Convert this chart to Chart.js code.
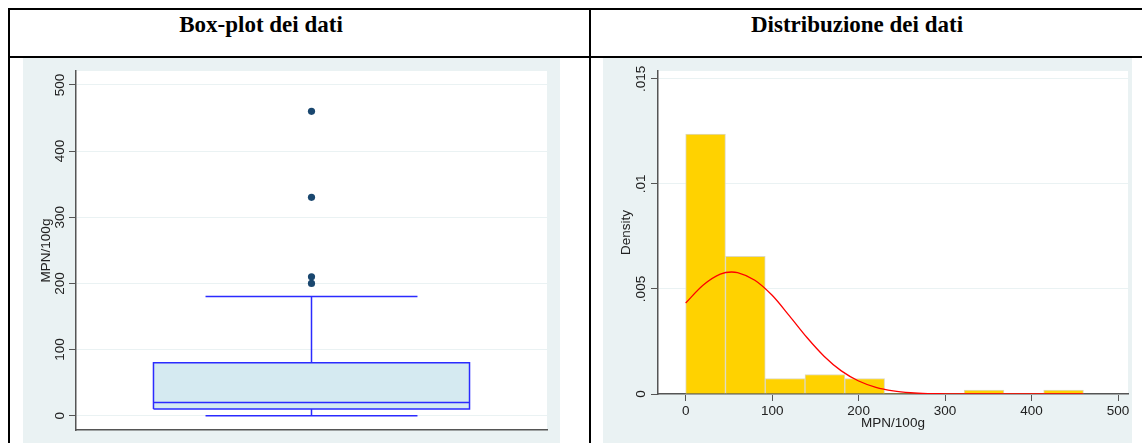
<!DOCTYPE html>
<html>
<head>
<meta charset="utf-8">
<script src="https://cdn.jsdelivr.net/npm/chart.js@4.4.1/dist/chart.umd.min.js"></script>
<style>
  html, body { margin: 0; padding: 0; background: #fff; }
  body { width: 1142px; height: 443px; position: relative; overflow: hidden; }
  .rule { position: absolute; background: #000; }
  .head { position: absolute; top: 12px; height: 24px; line-height: 24px; white-space: nowrap;
          font: bold 23px "Liberation Serif", "Times New Roman", serif; color: #000; transform: translateX(-50%); }
  canvas { position: absolute; top: 58px; background: #eaf2f3; }
</style>
</head>
<body>
<div class="rule" style="left:8px;top:8px;width:1134px;height:2px"></div>
<div class="rule" style="left:8px;top:56px;width:1134px;height:2px"></div>
<div class="rule" style="left:8px;top:8px;width:2px;height:435px"></div>
<div class="rule" style="left:589px;top:8px;width:2px;height:435px"></div>
<div class="head" style="left:261px">Box-plot dei dati</div>
<div class="head" style="left:857px">Distribuzione dei dati</div>

<canvas id="boxChart" width="537" height="385" style="left:23px"></canvas>
<canvas id="histChart" width="529" height="385" style="left:603px"></canvas>

<script>
// box plot (MPN/100g)
const boxQuartiles = [10, 20, 80];      // q1, median, q3
const boxWhiskers = [0, 180];           // lower, upper adjacent value
const boxOutliers = [200, 210, 330, 460];
const boxTicks = [0, 100, 200, 300, 400, 500];

// histogram + normal density
const binStarts = [0, 46, 92, 138, 184, 230, 276, 322, 368, 414];
const binWidth = 46;
const binDensity = [0.01238, 0.00655, 0.00074, 0.00093, 0.00074, 0, 0, 0.00019, 0, 0.00019];
const normalX = [0, 20, 40, 53, 60, 80, 100, 120, 140, 160, 180, 200, 220, 240, 260, 280, 300, 340, 380, 420, 460];
const normalY = [0.00433, 0.00518, 0.00571, 0.00581, 0.00578, 0.00542, 0.00470, 0.00372, 0.00270, 0.00180,
                 0.00110, 0.00062, 0.00032, 0.00015, 0.00006, 0.00002, 0.00001, 0, 0, 0, 0];
const mpnTicks = [0, 100, 200, 300, 400, 500];
const densityTicks = [0, 0.005, 0.01, 0.015];
const densityTickLabels = ['0', '.005', '.01', '.015'];

const FONT = '"Liberation Sans", Arial, Helvetica, sans-serif';
const AXIS = '#555';
const GRID = '#eaf2f3';

const plotBg = {
  id: 'plotBg',
  beforeDraw(chart) {
    const a = chart.chartArea, ctx = chart.ctx;
    ctx.save();
    ctx.fillStyle = '#fff';
    ctx.fillRect(a.left, a.top, a.right - a.left, a.bottom - a.top);
    ctx.restore();
  }
};

function fixTicks(list) {
  return function (scale) { scale.ticks = list.map(v => ({ value: v })); };
}

// ---- box plot ----
const cx = 0.5, boxHalf = 0.3355, capHalf = 0.225;
const q1 = boxQuartiles[0], med = boxQuartiles[1], q3 = boxQuartiles[2];
const wLo = boxWhiskers[0], wHi = boxWhiskers[1];
const gap = { x: cx, y: null };
const boxLines = [
  { x: cx - boxHalf, y: q1 }, { x: cx + boxHalf, y: q1 }, { x: cx + boxHalf, y: q3 },
  { x: cx - boxHalf, y: q3 }, { x: cx - boxHalf, y: q1 }, gap,
  { x: cx - boxHalf, y: med }, { x: cx + boxHalf, y: med }, gap,
  { x: cx, y: q3 }, { x: cx, y: wHi }, gap,
  { x: cx - capHalf, y: wHi }, { x: cx + capHalf, y: wHi }, gap,
  { x: cx, y: q1 }, { x: cx, y: wLo }, gap,
  { x: cx - capHalf, y: wLo }, { x: cx + capHalf, y: wLo }
];

new Chart(document.getElementById('boxChart'), {
  type: 'line',
  data: {
    datasets: [
      {
        data: boxOutliers.map(v => ({ x: cx, y: v })),
        showLine: false, pointRadius: 3.6, pointBackgroundColor: '#1a476f', pointBorderWidth: 0, order: 1
      },
      {
        data: boxLines, borderColor: '#2b2bff', borderWidth: 1.5, pointRadius: 0, fill: false, spanGaps: false, order: 2
      },
      {
        data: [{ x: cx - boxHalf, y: q3 }, { x: cx + boxHalf, y: q3 }],
        borderWidth: 0, pointRadius: 0, fill: { value: q1 }, backgroundColor: '#d5eaf1', order: 3
      }
    ]
  },
  options: {
    responsive: false, animation: false, devicePixelRatio: 1,
    layout: { padding: { left: 0, top: 13, right: 13, bottom: 13 } },
    plugins: { legend: { display: false }, tooltip: { enabled: false } },
    scales: {
      x: {
        type: 'linear', min: 0, max: 1,
        ticks: { display: false }, grid: { display: false },
        border: { display: true, color: AXIS, width: 1.5 },
        afterFit(s) { s.height = 0; }
      },
      y: {
        type: 'linear', min: -21.6, max: 521,
        afterBuildTicks: fixTicks(boxTicks),
        afterFit(s) { s.width = 53; },
        ticks: { minRotation: 90, maxRotation: 90, crossAlign: 'center', padding: -2.3, autoSkip: false,
                 color: '#222', font: { family: FONT, size: 13.5 } },
        grid: { color: GRID, lineWidth: 1, tickLength: 7, tickColor: AXIS, tickWidth: 1 },
        border: { display: true, color: AXIS, width: 1.5 },
        title: { display: true, text: 'MPN/100g', color: '#222', font: { family: FONT, size: 13.5, lineHeight: 1 },
                 padding: { top: 16.2, bottom: 0 } }
      }
    }
  },
  plugins: [plotBg]
});

// ---- histogram ----
new Chart(document.getElementById('histChart'), {
  type: 'bar',
  data: {
    datasets: [
      {
        type: 'line',
        data: normalX.map((x, i) => ({ x: x, y: normalY[i] })),
        borderColor: '#ff0000', borderWidth: 1.3, pointRadius: 0, fill: false,
        cubicInterpolationMode: 'monotone', order: 0
      },
      {
        type: 'bar',
        data: binStarts.map((s, i) => ({ x: s + binWidth / 2, y: binDensity[i] })),
        backgroundColor: '#ffd200', borderColor: '#ddd8bf',
        borderWidth: ctx => (binDensity[ctx.dataIndex] > 0 ? 1 : 0),
        barPercentage: 1, categoryPercentage: 1, order: 1
      }
    ]
  },
  options: {
    responsive: false, animation: false, devicePixelRatio: 1,
    layout: { padding: { left: 0, top: 13, right: 4, bottom: 0 } },
    plugins: { legend: { display: false }, tooltip: { enabled: false } },
    scales: {
      x: {
        type: 'linear', min: -32, max: 511.5, offset: false,
        afterBuildTicks: fixTicks(mpnTicks),
        afterFit(s) { s.height = 49; },
        ticks: { padding: 2, autoSkip: false, maxRotation: 0, color: '#222', font: { family: FONT, size: 13.5 } },
        grid: { offset: false, drawOnChartArea: false, tickLength: 7, tickColor: AXIS, tickWidth: 1 },
        border: { display: true, color: AXIS, width: 1.5 },
        title: { display: true, text: 'MPN/100g', color: '#222', font: { family: FONT, size: 13.5, lineHeight: 1 },
                 padding: { top: 0, bottom: 13.2 } }
      },
      y: {
        type: 'linear', min: 0, max: 0.01538,
        afterBuildTicks: fixTicks(densityTicks),
        afterFit(s) { s.width = 55; },
        ticks: { minRotation: 90, maxRotation: 90, crossAlign: 'center', padding: -3.1, autoSkip: false,
                 color: '#222', font: { family: FONT, size: 13.5 },
                 callback: (v, i) => densityTickLabels[i] },
        grid: { color: GRID, lineWidth: 1, tickLength: 7, tickColor: AXIS, tickWidth: 1 },
        border: { display: true, color: AXIS, width: 1.5 },
        title: { display: true, text: 'Density', color: '#222', font: { family: FONT, size: 13.5, lineHeight: 1 },
                 padding: { top: 17, bottom: 0 } }
      }
    }
  },
  plugins: [plotBg]
});
</script>
</body>
</html>
